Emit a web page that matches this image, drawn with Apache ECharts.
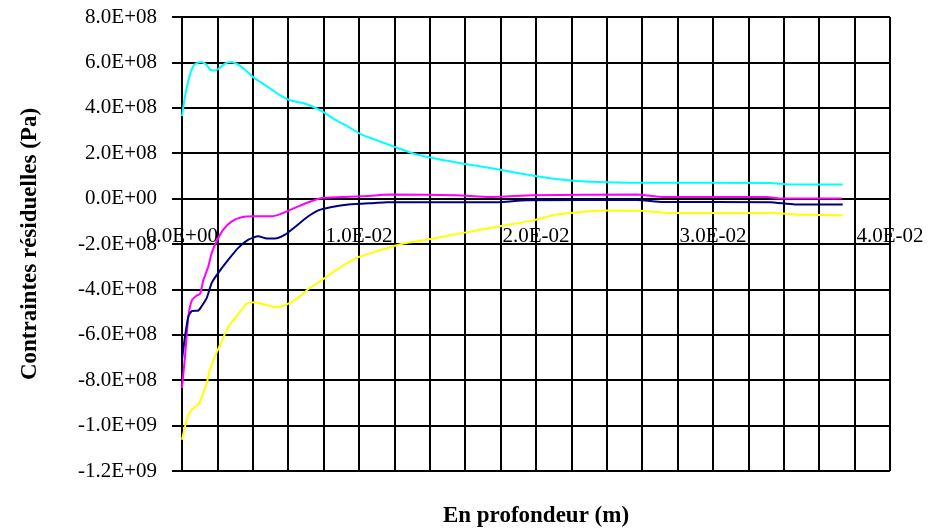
<!DOCTYPE html>
<html>
<head>
<meta charset="utf-8">
<script src="https://cdn.jsdelivr.net/npm/echarts@6/dist/echarts.min.js"></script>
<style>
    html, body { margin: 0; padding: 0; background: #fff; }
    #chart { width: 943px; height: 528px; }
</style>
</head>
<body>
<div id="chart"></div>
<script>
    // depth (m) and residual stress (Pa)
    var cyanDepth = [0, 0.00017, 0.00045, 0.0007, 0.00107, 0.00139, 0.00158, 0.00182, 0.00205, 0.00243, 0.00281, 0.00318, 0.00356, 0.00403, 0.0045, 0.00507, 0.00563, 0.0061, 0.00676, 0.00733, 0.0079, 0.00864, 0.0094, 0.01015, 0.0109, 0.01194, 0.01326, 0.01458, 0.0159, 0.0174, 0.01872, 0.02004, 0.02098, 0.0221, 0.024, 0.02588, 0.03322, 0.03435, 0.03733];
    var cyanStress = [3.63e8, 4.51e8, 5.46e8, 5.9e8, 6.02e8, 5.9e8, 5.68e8, 5.64e8, 5.71e8, 5.95e8, 6.02e8, 5.9e8, 5.68e8, 5.34e8, 5.1e8, 4.8e8, 4.51e8, 4.33e8, 4.22e8, 4.07e8, 3.85e8, 3.48e8, 3.16e8, 2.82e8, 2.6e8, 2.3e8, 1.94e8, 1.72e8, 1.54e8, 1.35e8, 1.16e8, 0.98e8, 0.87e8, 0.79e8, 0.72e8, 0.7e8, 0.69e8, 0.62e8, 0.62e8];

    var magentaDepth = [0, 0.00017, 0.00036, 0.00055, 0.00083, 0.00102, 0.0012, 0.0013, 0.00149, 0.00168, 0.00196, 0.00233, 0.00281, 0.00337, 0.00412, 0.00507, 0.00563, 0.00638, 0.00714, 0.0079, 0.00902, 0.01015, 0.01175, 0.01552, 0.0174, 0.01985, 0.02569, 0.02718, 0.03304, 0.03379, 0.03727];
    var magentaStress = [-8.34e8, -6.95e8, -5.19e8, -4.49e8, -4.27e8, -4.2e8, -3.61e8, -3.39e8, -2.98e8, -2.39e8, -1.88e8, -1.37e8, -1.0e8, -0.82e8, -0.78e8, -0.78e8, -0.66e8, -0.41e8, -0.16e8, 0.03e8, 0.07e8, 0.1e8, 0.18e8, 0.15e8, 0.07e8, 0.15e8, 0.18e8, 0.07e8, 0.07e8, 0, 0];

    var navyDepth = [0, 0.00017, 0.00036, 0.00055, 0.00092, 0.00111, 0.0014, 0.00168, 0.00205, 0.00262, 0.00318, 0.00375, 0.00431, 0.00479, 0.00525, 0.00582, 0.00638, 0.00714, 0.0077, 0.00846, 0.0094, 0.0109, 0.01157, 0.01778, 0.01948, 0.02569, 0.02718, 0.03322, 0.03463, 0.03733];
    var navyStress = [-7.09e8, -6.07e8, -5.19e8, -4.96e8, -4.93e8, -4.74e8, -4.37e8, -3.71e8, -3.27e8, -2.69e8, -2.17e8, -1.81e8, -1.66e8, -1.76e8, -1.76e8, -1.59e8, -1.25e8, -0.78e8, -0.52e8, -0.37e8, -0.26e8, -0.19e8, -0.16e8, -0.16e8, -0.07e8, -0.06e8, -0.15e8, -0.16e8, -0.26e8, -0.26e8];

    var yellowDepth = [0, 0.00027, 0.00055, 0.00092, 0.0012, 0.0014, 0.00158, 0.00186, 0.00224, 0.00262, 0.003, 0.00366, 0.00412, 0.00469, 0.00525, 0.00563, 0.0061, 0.00667, 0.00714, 0.0079, 0.00874, 0.00987, 0.011, 0.0125, 0.01383, 0.01589, 0.01797, 0.01985, 0.02117, 0.024, 0.02588, 0.02757, 0.0335, 0.03463, 0.03733];
    var yellowStress = [-10.62e8, -9.74e8, -9.3e8, -9.07e8, -8.56e8, -8.12e8, -7.53e8, -6.95e8, -6.29e8, -5.63e8, -5.26e8, -4.63e8, -4.57e8, -4.67e8, -4.77e8, -4.74e8, -4.59e8, -4.3e8, -3.98e8, -3.59e8, -3.13e8, -2.61e8, -2.32e8, -1.98e8, -1.81e8, -1.51e8, -1.22e8, -0.96e8, -0.7e8, -0.52e8, -0.53e8, -0.63e8, -0.63e8, -0.7e8, -0.73e8];

    var seriesColors = ['#00ffff', '#ff00ff', '#000080', '#ffff00'];

    function pairs(xs, ys) {
        return xs.map(function (x, i) { return [x, ys[i]]; });
    }

    // 8.0E+08 style labels
    function sci(v) {
        if (Math.abs(v) < 1e-12) return '0.0E+00';
        var parts = v.toExponential(1).split('e');
        var e = parseInt(parts[1], 10);
        return parts[0] + 'E' + (e < 0 ? '-' : '+') + String(Math.abs(e)).padStart(2, '0');
    }

    var font = 'Liberation Serif';
    var lineData = [
        pairs(cyanDepth, cyanStress),
        pairs(magentaDepth, magentaStress),
        pairs(navyDepth, navyStress),
        pairs(yellowDepth, yellowStress)
    ];

    var chart = echarts.init(document.getElementById('chart'));
    chart.setOption({
        animation: false,
        grid: { left: 182, right: 53, top: 17, bottom: 57, containLabel: false, outerBoundsMode: 'none' },
        xAxis: {
            type: 'value',
            min: 0,
            max: 0.04,
            interval: 0.002,
            // the axis sits on the zero line (y = 0 is 272px above the bottom)
            position: 'bottom',
            offset: -272,
            name: 'En profondeur (m)',
            nameLocation: 'middle',
            nameGap: 306,
            nameTextStyle: { fontFamily: font, fontWeight: 'bold', fontSize: 23, color: '#000' },
            axisLine: { onZero: false, lineStyle: { color: '#000', width: 2 } },
            axisTick: { show: true, length: 7, lineStyle: { color: '#000', width: 2 } },
            axisLabel: {
                margin: 27,
                fontFamily: font,
                fontSize: 21,
                color: '#000',
                showMaxLabel: true,
                formatter: function (v) {
                    var k = v * 100;
                    if (Math.abs(k - Math.round(k)) > 1e-6) return '';
                    return sci(Math.round(k) / 100);
                }
            },
            splitLine: { show: true, lineStyle: { color: '#000', width: 2 } }
        },
        yAxis: {
            type: 'value',
            min: -1.2e9,
            max: 8e8,
            interval: 2e8,
            name: 'Contraintes résiduelles (Pa)',
            nameLocation: 'middle',
            nameGap: 140,
            nameTextStyle: { fontFamily: font, fontWeight: 'bold', fontSize: 23, color: '#000' },
            axisLine: { show: true, onZero: false, lineStyle: { color: '#000', width: 2 } },
            axisTick: { show: true, length: 10, lineStyle: { color: '#000', width: 2 } },
            axisLabel: { margin: 25, fontFamily: font, fontSize: 21, color: '#000', formatter: sci },
            splitLine: { show: true, lineStyle: { color: '#000', width: 2 } }
        },
        series: lineData.map(function (d, i) {
            return {
                type: 'line',
                data: d,
                smooth: 0.2,
                showSymbol: false,
                lineStyle: { color: seriesColors[i], width: 2 },
                itemStyle: { color: seriesColors[i] }
            };
        })
    });
</script>
</body>
</html>
